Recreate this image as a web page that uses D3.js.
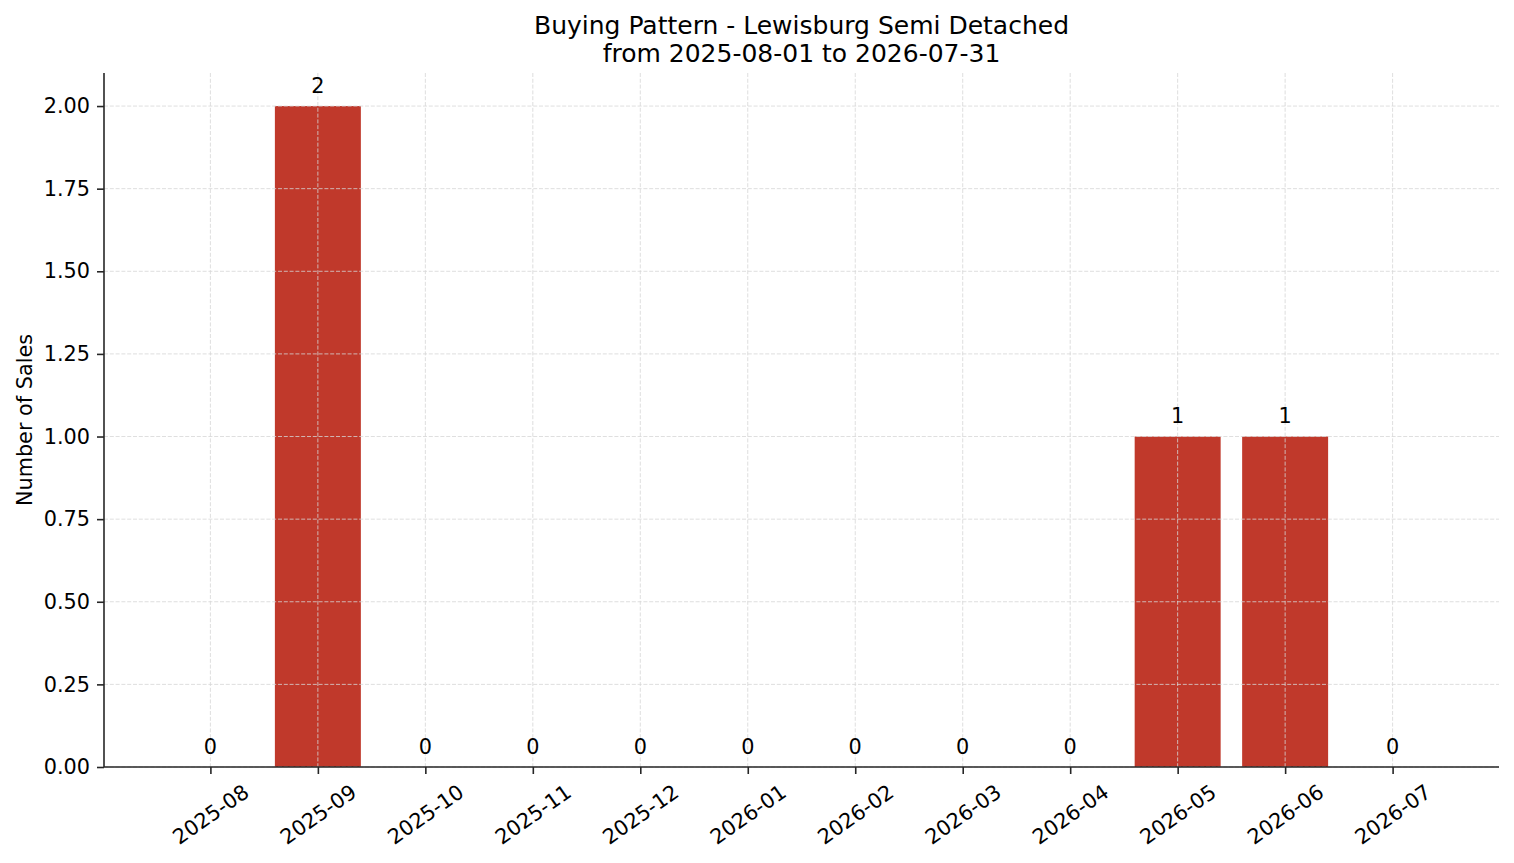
<!DOCTYPE html>
<html>
<head>
<meta charset="utf-8">
<script src="https://cdn.jsdelivr.net/npm/d3@7"></script>
<style>
  html, body { margin: 0; padding: 0; background: #fff; }
  svg { display: block; font-family: "DejaVu Sans", sans-serif; }
  .grid line { stroke: #d6d6d6; stroke-width: 0.8; stroke-dasharray: 4,1.8; }
</style>
</head>
<body>
<svg width="1514" height="863"></svg>
<script>
const months = ["2025-08", "2025-09", "2025-10", "2025-11", "2025-12", "2026-01",
  "2026-02", "2026-03", "2026-04", "2026-05", "2026-06", "2026-07"];
const sales = [0, 2, 0, 0, 0, 0, 0, 0, 0, 1, 1, 0];
const yTicks = [0, 0.25, 0.5, 0.75, 1, 1.25, 1.5, 1.75, 2];
const titleLines = ["Buying Pattern - Lewisburg Semi Detached", "from 2025-08-01 to 2026-07-31"];

const svg = d3.select("svg");
const plotLeft = 104, plotRight = 1499, plotTop = 73, plotBottom = 767;
const fs = 20.8;

// bars sit on integer positions, like matplotlib's categorical axis
const x = d3.scaleLinear().domain([-0.99, months.length - 1 + 0.99]).range([plotLeft, plotRight]);
const y = d3.scaleLinear().domain([0, 2.1]).range([plotBottom, plotTop]);
const barW = x(0.8) - x(0);

// bars
svg.append("g")
  .selectAll("rect")
  .data(sales)
  .enter()
  .append("rect")
  .attr("x", (d, i) => x(i) - barW / 2)
  .attr("y", d => y(d))
  .attr("width", barW)
  .attr("height", d => y(0) - y(d))
  .attr("fill", "#c0392b");

// grid drawn over the bars
const grid = svg.append("g").attr("class", "grid");
grid.selectAll(".gy")
  .data(yTicks)
  .enter()
  .append("line")
  .attr("x1", plotLeft).attr("x2", plotRight)
  .attr("y1", d => y(d)).attr("y2", d => y(d));
grid.selectAll(".gx")
  .data(months)
  .enter()
  .append("line")
  .attr("x1", (d, i) => x(i)).attr("x2", (d, i) => x(i))
  .attr("y1", plotTop).attr("y2", plotBottom);

// value labels
svg.append("g")
  .selectAll("text")
  .data(sales)
  .enter()
  .append("text")
  .attr("x", (d, i) => x(i))
  .attr("y", d => y(d) - 13.5)
  .attr("text-anchor", "middle")
  .attr("font-size", fs)
  .attr("fill", "#000")
  .text(d => d);

// y axis
const yAxis = svg.append("g")
  .attr("transform", `translate(${plotLeft},0)`)
  .call(d3.axisLeft(y).tickValues(yTicks).tickFormat(d3.format(".2f")).tickSize(7).tickPadding(7));
yAxis.select(".domain").attr("d", `M0,${plotBottom}V${plotTop}`);

// x axis
const xAxis = svg.append("g")
  .attr("transform", `translate(0,${plotBottom})`)
  .call(d3.axisBottom(x).tickValues(d3.range(months.length)).tickFormat(i => months[i]).tickSize(7));
xAxis.select(".domain").attr("d", `M${plotLeft},0H${plotRight}`);
xAxis.selectAll(".tick text")
  .attr("y", 0)
  .attr("dy", null)
  .attr("dominant-baseline", "central")
  .attr("transform", "translate(0,47.5) rotate(-35)");

svg.selectAll(".domain").attr("stroke", "#262626").attr("stroke-width", 1.6);
svg.selectAll(".tick line").attr("stroke", "#262626").attr("stroke-width", 1.6);
svg.selectAll(".tick text").attr("font-size", fs).attr("fill", "#000")
  .attr("font-family", "DejaVu Sans");

// y label
svg.append("text")
  .attr("transform", `translate(32,${(plotTop + plotBottom) / 2}) rotate(-90)`)
  .attr("text-anchor", "middle")
  .attr("font-size", fs)
  .text("Number of Sales");

// title
svg.append("g")
  .selectAll("text")
  .data(titleLines)
  .enter()
  .append("text")
  .attr("x", (plotLeft + plotRight) / 2)
  .attr("y", (d, i) => 34 + i * 28)
  .attr("text-anchor", "middle")
  .attr("font-size", 25)
  .text(d => d);
</script>
</body>
</html>
